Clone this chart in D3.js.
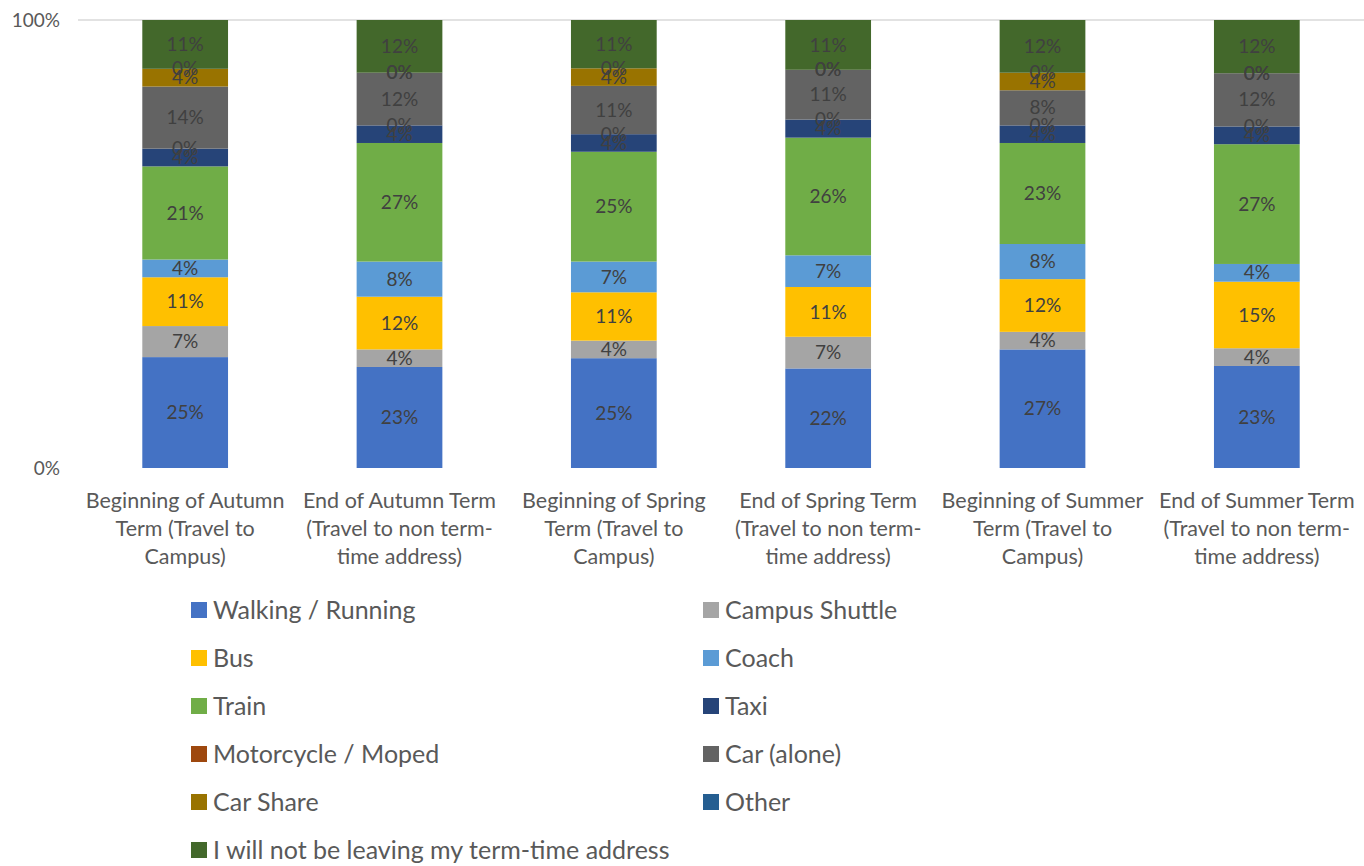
<!DOCTYPE html>
<html>
<head>
<meta charset="utf-8">
<script src="https://cdn.jsdelivr.net/npm/d3@7"></script>
<style>
  html, body { margin: 0; padding: 0; background: #fff; }
  svg { display: block; font-family: Lato, "Open Sans", sans-serif; }
</style>
</head>
<body>
<svg id="chart" width="1364" height="866"></svg>
<script>
// Journey stages (x categories)
const categories = [
  ["Beginning of Autumn", "Term (Travel to", "Campus)"],
  ["End of Autumn Term", "(Travel to non term-", "time address)"],
  ["Beginning of Spring", "Term (Travel to", "Campus)"],
  ["End of Spring Term", "(Travel to non term-", "time address)"],
  ["Beginning of Summer", "Term (Travel to", "Campus)"],
  ["End of Summer Term", "(Travel to non term-", "time address)"]
];

// Travel modes, bottom of stack first
const seriesNames = [
  "Walking / Running", "Campus Shuttle", "Bus", "Coach", "Train", "Taxi",
  "Motorcycle / Moped", "Car (alone)", "Car Share", "Other",
  "I will not be leaving my term-time address"
];

const seriesColors = [
  "#4472C4", "#A5A5A5", "#FFC000", "#5B9BD5", "#70AD47", "#264478",
  "#9E480E", "#636363", "#997300", "#255E91", "#43682B"
];

// Percentage share of each mode per stage (one array per mode)
const walking     = [25, 23, 25, 22, 27, 23];
const shuttle     = [7, 4, 4, 7, 4, 4];
const bus         = [11, 12, 11, 11, 12, 15];
const coach       = [4, 8, 7, 7, 8, 4];
const train       = [21, 27, 25, 26, 23, 27];
const taxi        = [4, 4, 4, 4, 4, 4];
const motorcycle  = [0, 0, 0, 0, 0, 0];
const carAlone    = [14, 12, 11, 11, 8, 12];
const carShare    = [4, 0, 4, 0, 4, 0];
const other       = [0, 0, 0, 0, 0, 0];
const notLeaving  = [11, 12, 11, 11, 12, 12];

const seriesValues = [walking, shuttle, bus, coach, train, taxi,
  motorcycle, carAlone, carShare, other, notLeaving];

const yTicks = [0, 1];

const svg = d3.select("#chart");
const margin = { top: 20, left: 78, right: 0 };
const W = 1364;
const plotBottom = 468;

const x = d3.scaleBand()
  .domain(d3.range(categories.length))
  .range([margin.left, W - margin.right])
  .paddingInner(0.6)
  .paddingOuter(0.3);

const y = d3.scaleLinear().domain([0, 1]).range([plotBottom, margin.top]);

// Build rows and normalise to 100% per stage
const rows = categories.map((c, i) => {
  const r = { idx: i };
  seriesNames.forEach((s, k) => { r[s] = seriesValues[k][i]; });
  return r;
});
const stacked = d3.stack().keys(seriesNames).offset(d3.stackOffsetExpand)(rows);

// Gridline at 100%
svg.append("line")
  .attr("x1", margin.left).attr("x2", W)
  .attr("y1", y(1)).attr("y2", y(1))
  .attr("stroke", "#d9d9d9").attr("stroke-width", 1.3);

// Y-axis labels
svg.append("g").selectAll("text")
  .data(yTicks).join("text")
  .attr("x", 60).attr("y", d => y(d))
  .attr("dy", "0.35em")
  .attr("text-anchor", "end")
  .attr("font-size", 19)
  .attr("fill", "#595959")
  .text(d => d3.format(".0%")(d));

// Bars
const layers = svg.append("g").selectAll("g")
  .data(stacked).join("g")
  .attr("fill", (d, k) => seriesColors[k]);

layers.selectAll("rect")
  .data(d => d).join("rect")
  .attr("x", d => x(d.data.idx))
  .attr("width", x.bandwidth())
  .attr("y", d => y(d[1]))
  .attr("height", d => Math.max(0, y(d[0]) - y(d[1])));

// Data labels
const labels = svg.append("g");
stacked.forEach((layer, k) => {
  layer.forEach(d => {
    labels.append("text")
      .attr("x", x(d.data.idx) + x.bandwidth() / 2)
      .attr("y", (y(d[0]) + y(d[1])) / 2)
      .attr("dy", "0.35em")
      .attr("text-anchor", "middle")
      .attr("font-size", 19)
      .attr("fill", "#404040")
      .text(seriesValues[k][d.data.idx] + "%");
  });
});

// Category labels
const xl = svg.append("g");
categories.forEach((lines, i) => {
  const cx = x(i) + x.bandwidth() / 2;
  const t = xl.append("text")
    .attr("x", cx)
    .attr("y", 500)
    .attr("text-anchor", "middle")
    .attr("font-size", 21.5)
    .attr("fill", "#595959");
  lines.forEach((ln, j) => {
    t.append("tspan")
      .attr("x", cx)
      .attr("dy", j === 0 ? "0.35em" : 28)
      .text(ln);
  });
});

// Legend: two columns, filled row by row
const legend = svg.append("g");
seriesNames.forEach((name, k) => {
  const col = k % 2, row = Math.floor(k / 2);
  const lx = col === 0 ? 191 : 703;
  const ly = 610 + row * 48;
  legend.append("rect")
    .attr("x", lx).attr("y", ly - 8)
    .attr("width", 16).attr("height", 16)
    .attr("fill", seriesColors[k]);
  legend.append("text")
    .attr("x", lx + 22).attr("y", ly)
    .attr("dy", "0.35em")
    .attr("font-size", 25)
    .attr("fill", "#595959")
    .text(name);
});
</script>
</body>
</html>
